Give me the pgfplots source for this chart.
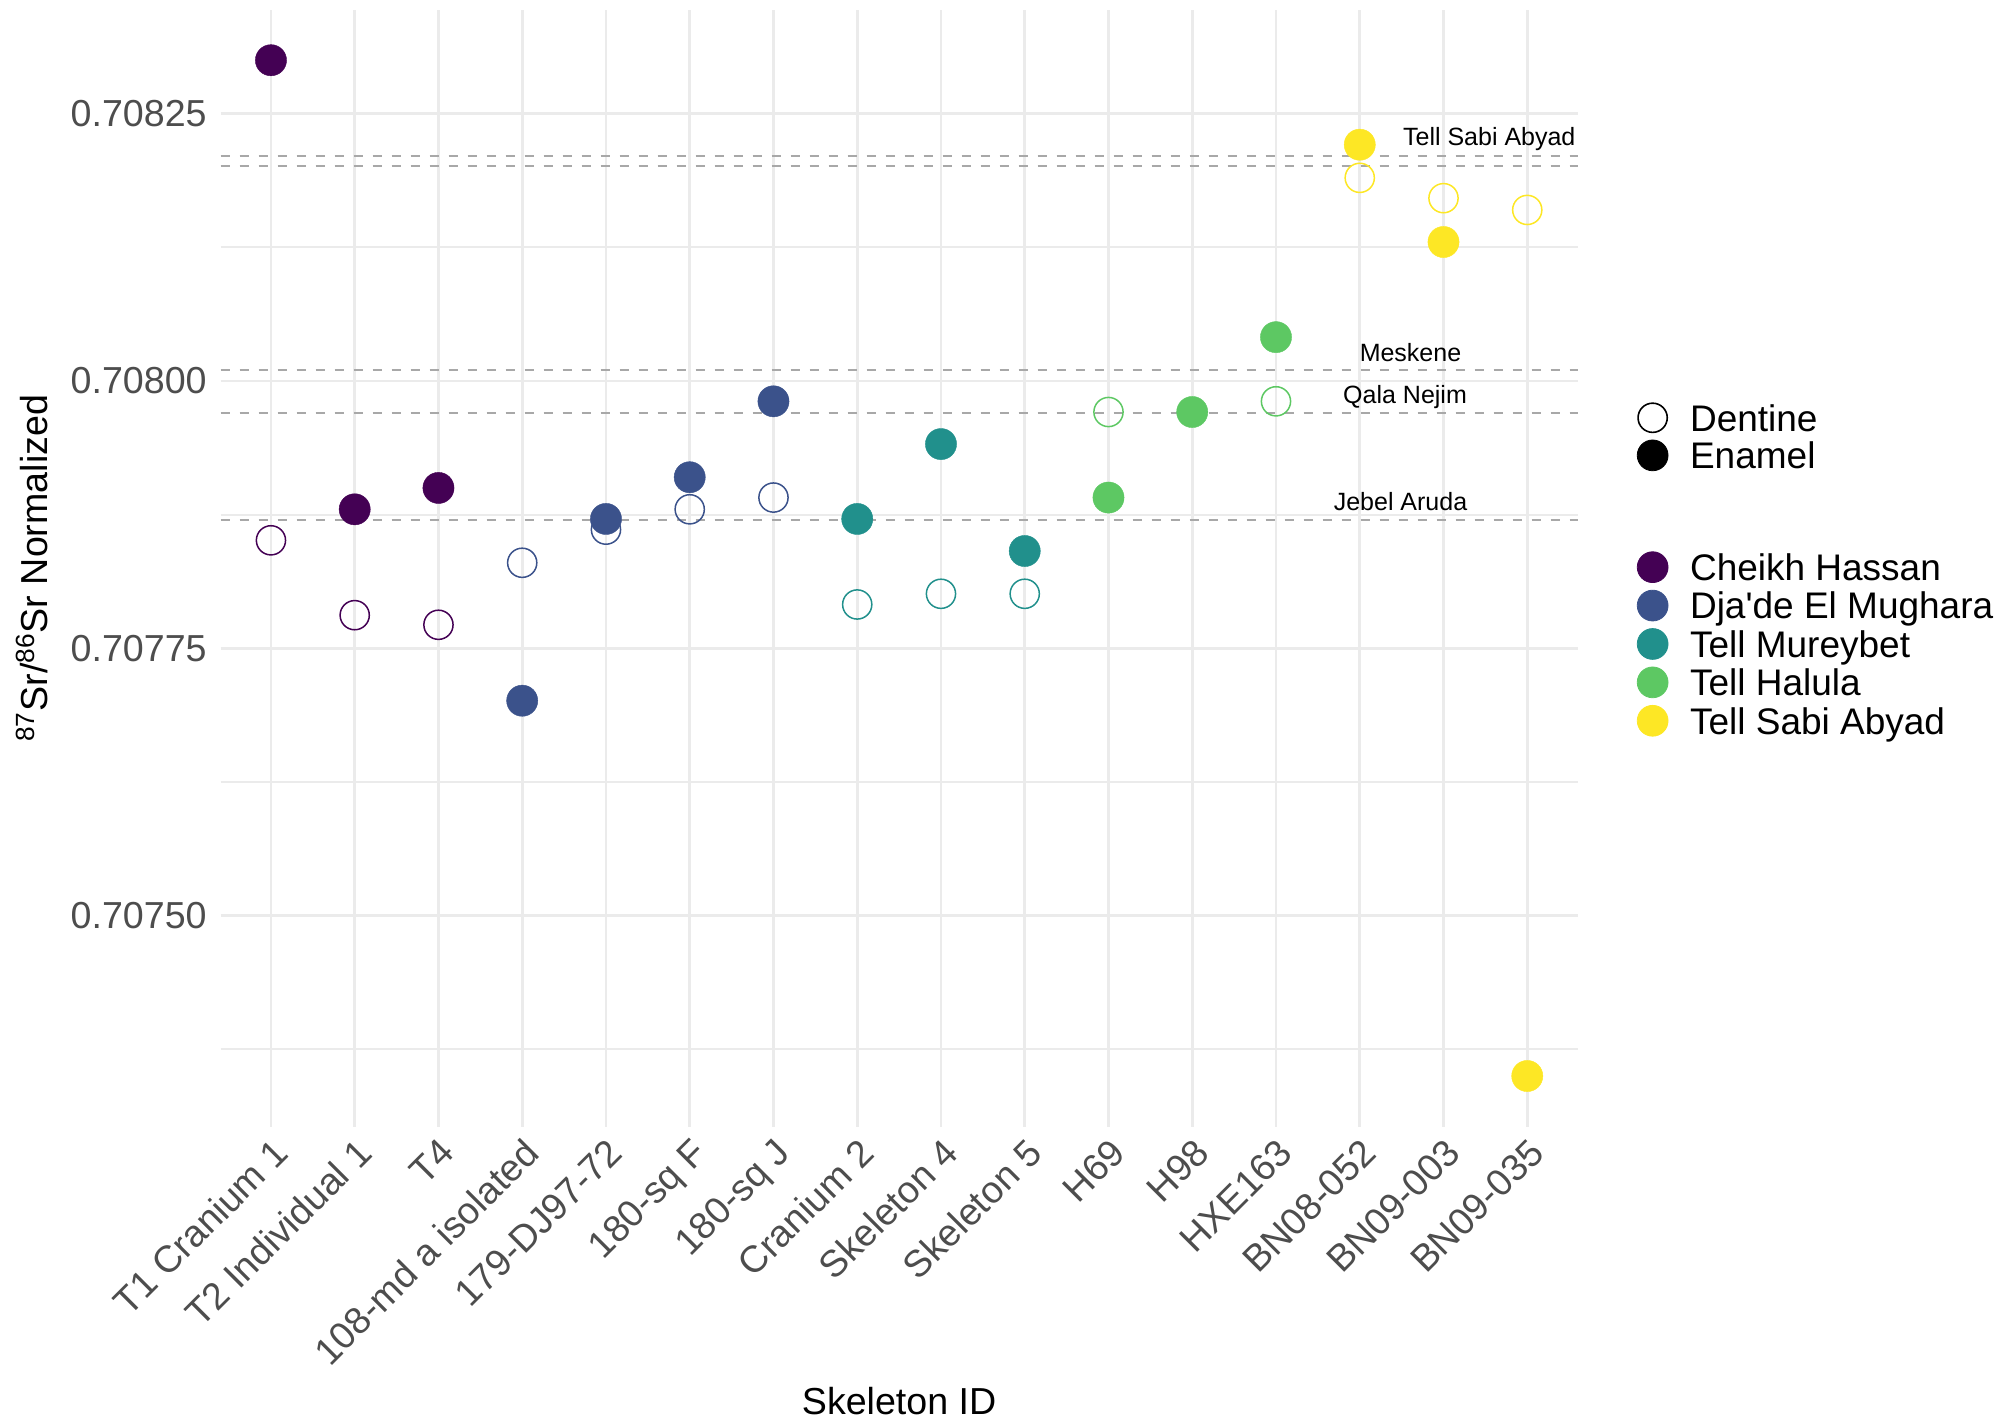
\documentclass[border=0pt]{standalone}
\usepackage{fontspec}
\setmainfont{Liberation Sans}
\usepackage{pgfplots}
\pgfplotsset{compat=1.18}
% viridis(5)
\definecolor{chk}{HTML}{440154}
\definecolor{dja}{HTML}{3B528B}
\definecolor{mur}{HTML}{21908C}
\definecolor{hal}{HTML}{5DC863}
\definecolor{sab}{HTML}{FDE725}
\definecolor{tickgray}{HTML}{4D4D4D}
\definecolor{gridgray}{HTML}{EBEBEB}
\definecolor{dashgray}{HTML}{A8A8A8}
\newcommand{\fbig}{\fontsize{18.8}{18.8}\selectfont}
\newcommand{\fleg}{\fontsize{18.5}{18.5}\selectfont}
\newcommand{\fsml}{\fontsize{12.5}{12.5}\selectfont}
\begin{document}
\begin{tikzpicture}[x=1pt,y=1pt]
\path[use as bounding box] (0,0) rectangle (1004,714);
\begin{axis}[
  at={(110.35pt,150.65pt)}, anchor=south west,
  scale only axis, width=678.4pt, height=558.35pt,
  xmin=0.4, xmax=16.6, ymin=0.7073026, ymax=0.708347,
  clip=false,
  axis line style={draw=none},
  major tick length=0pt, minor tick length=0pt,
  xtick={1,...,16},
  xticklabels={T1 Cranium 1,T2 Individual 1,T4,108-md a isolated,179-DJ97-72,180-sq F,180-sq J,Cranium 2,Skeleton 4,Skeleton 5,H69,H98,HXE163,BN08-052,BN09-003,BN09-035},
  xticklabel style={rotate=45, anchor=north east, font=\fbig, text=tickgray},
  ytick={0.7075,0.70775,0.708,0.70825},
  yticklabels={0.70750,0.70775,0.70800,0.70825},
  minor ytick={0.707375,0.707625,0.707875,0.708125},
  yticklabel style={font=\fbig, text=tickgray, xshift=-3.5pt},
  ymajorgrids, yminorgrids, xmajorgrids,
  major grid style={gridgray, line width=1.35pt},
  minor grid style={gridgray, line width=1pt},
  xlabel={Skeleton ID},
  xlabel style={at={(axis description cs:0.5,-0.2453)}, anchor=center, font=\fbig},
  ylabel={\textsuperscript{87}Sr/\textsuperscript{86}Sr Normalized},
  ylabel style={at={(axis description cs:-0.1391,0.5)}, anchor=center, font=\fbig},
  legend cell align=left,
  legend style={draw=none, fill=none, inner sep=0pt, outer sep=0pt,
    at={(axis description cs:1.0428,0.6479)}, anchor=north west,
    font=\fleg, column sep=11pt, row sep=3.8pt,
    nodes={inner sep=0pt, text height=13.4pt, text depth=0pt}},
]
% reference lines
\addplot[dashgray, line width=1pt, dash pattern=on 4.5pt off 5pt, forget plot] coordinates {(0.4,0.70821) (16.6,0.70821)};
\addplot[dashgray, line width=1pt, dash pattern=on 4.5pt off 5pt, forget plot] coordinates {(0.4,0.708201) (16.6,0.708201)};
\addplot[dashgray, line width=1pt, dash pattern=on 4.5pt off 5pt, forget plot] coordinates {(0.4,0.70801) (16.6,0.70801)};
\addplot[dashgray, line width=1pt, dash pattern=on 4.5pt off 5pt, forget plot] coordinates {(0.4,0.70797) (16.6,0.70797)};
\addplot[dashgray, line width=1pt, dash pattern=on 4.5pt off 5pt, forget plot] coordinates {(0.4,0.70787) (16.6,0.70787)};
\node[anchor=east, inner sep=0pt, font=\fsml] at (axis cs:16.58,0.708226) {Tell Sabi Abyad};
\node[anchor=east, inner sep=0pt, font=\fsml] at (axis cs:15.216,0.708027) {Meskene};
\node[anchor=east, inner sep=0pt, font=\fsml] at (axis cs:15.284,0.707985) {Qala Nejim};
\node[anchor=east, inner sep=0pt, font=\fsml] at (axis cs:15.288,0.707887) {Jebel Aruda};
% dentine (open)
\addplot[only marks, mark=o, mark size=7.3pt, mark options={draw=chk, line width=0.75pt}, forget plot] coordinates {(1,0.707851) (2,0.707781) (3,0.707772)};
\addplot[only marks, mark=o, mark size=7.3pt, mark options={draw=dja, line width=0.75pt}, forget plot] coordinates {(4,0.70783) (5,0.707861) (6,0.70788) (7,0.707891)};
\addplot[only marks, mark=o, mark size=7.3pt, mark options={draw=mur, line width=0.75pt}, forget plot] coordinates {(8,0.707791) (9,0.707801) (10,0.707801)};
\addplot[only marks, mark=o, mark size=7.3pt, mark options={draw=hal, line width=0.75pt}, forget plot] coordinates {(11,0.707971) (13,0.707981)};
\addplot[only marks, mark=o, mark size=7.3pt, mark options={draw=sab, line width=0.75pt}, forget plot] coordinates {(14,0.70819) (15,0.708171) (16,0.70816)};
% enamel (filled)
\addplot[only marks, mark=*, mark size=7.8pt, mark options={draw=chk, fill=chk, line width=0.2pt}, forget plot] coordinates {(1,0.70830) (2,0.70788) (3,0.70790)};
\addplot[only marks, mark=*, mark size=7.8pt, mark options={draw=dja, fill=dja, line width=0.2pt}, forget plot] coordinates {(4,0.707701) (5,0.707871) (6,0.70791) (7,0.707981)};
\addplot[only marks, mark=*, mark size=7.8pt, mark options={draw=mur, fill=mur, line width=0.2pt}, forget plot] coordinates {(8,0.707871) (9,0.707941) (10,0.707841)};
\addplot[only marks, mark=*, mark size=7.8pt, mark options={draw=hal, fill=hal, line width=0.2pt}, forget plot] coordinates {(11,0.707891) (12,0.707971) (13,0.708041)};
\addplot[only marks, mark=*, mark size=7.8pt, mark options={draw=sab, fill=sab, line width=0.2pt}, forget plot] coordinates {(14,0.708221) (15,0.70813) (16,0.70735)};
% legend
\addlegendimage{only marks, mark=*, mark size=7.3pt, mark options={draw=black, fill=white, line width=0.8pt}}
\addlegendentry{Dentine}
\addlegendimage{only marks, mark=*, mark size=7.7pt, mark options={draw=black, fill=black}}
\addlegendentry{Enamel}
\addlegendimage{empty legend}
\addlegendentry[text height=32.9pt]{}
\addlegendimage{only marks, mark=*, mark size=7.7pt, mark options={draw=chk, fill=chk}}
\addlegendentry{Cheikh Hassan}
\addlegendimage{only marks, mark=*, mark size=7.7pt, mark options={draw=dja, fill=dja}}
\addlegendentry{Dja\textquotesingle de El Mughara}
\addlegendimage{only marks, mark=*, mark size=7.7pt, mark options={draw=mur, fill=mur}}
\addlegendentry{Tell Mureybet}
\addlegendimage{only marks, mark=*, mark size=7.7pt, mark options={draw=hal, fill=hal}}
\addlegendentry{Tell Halula}
\addlegendimage{only marks, mark=*, mark size=7.7pt, mark options={draw=sab, fill=sab}}
\addlegendentry{Tell Sabi Abyad}
\end{axis}
\end{tikzpicture}
\end{document}
